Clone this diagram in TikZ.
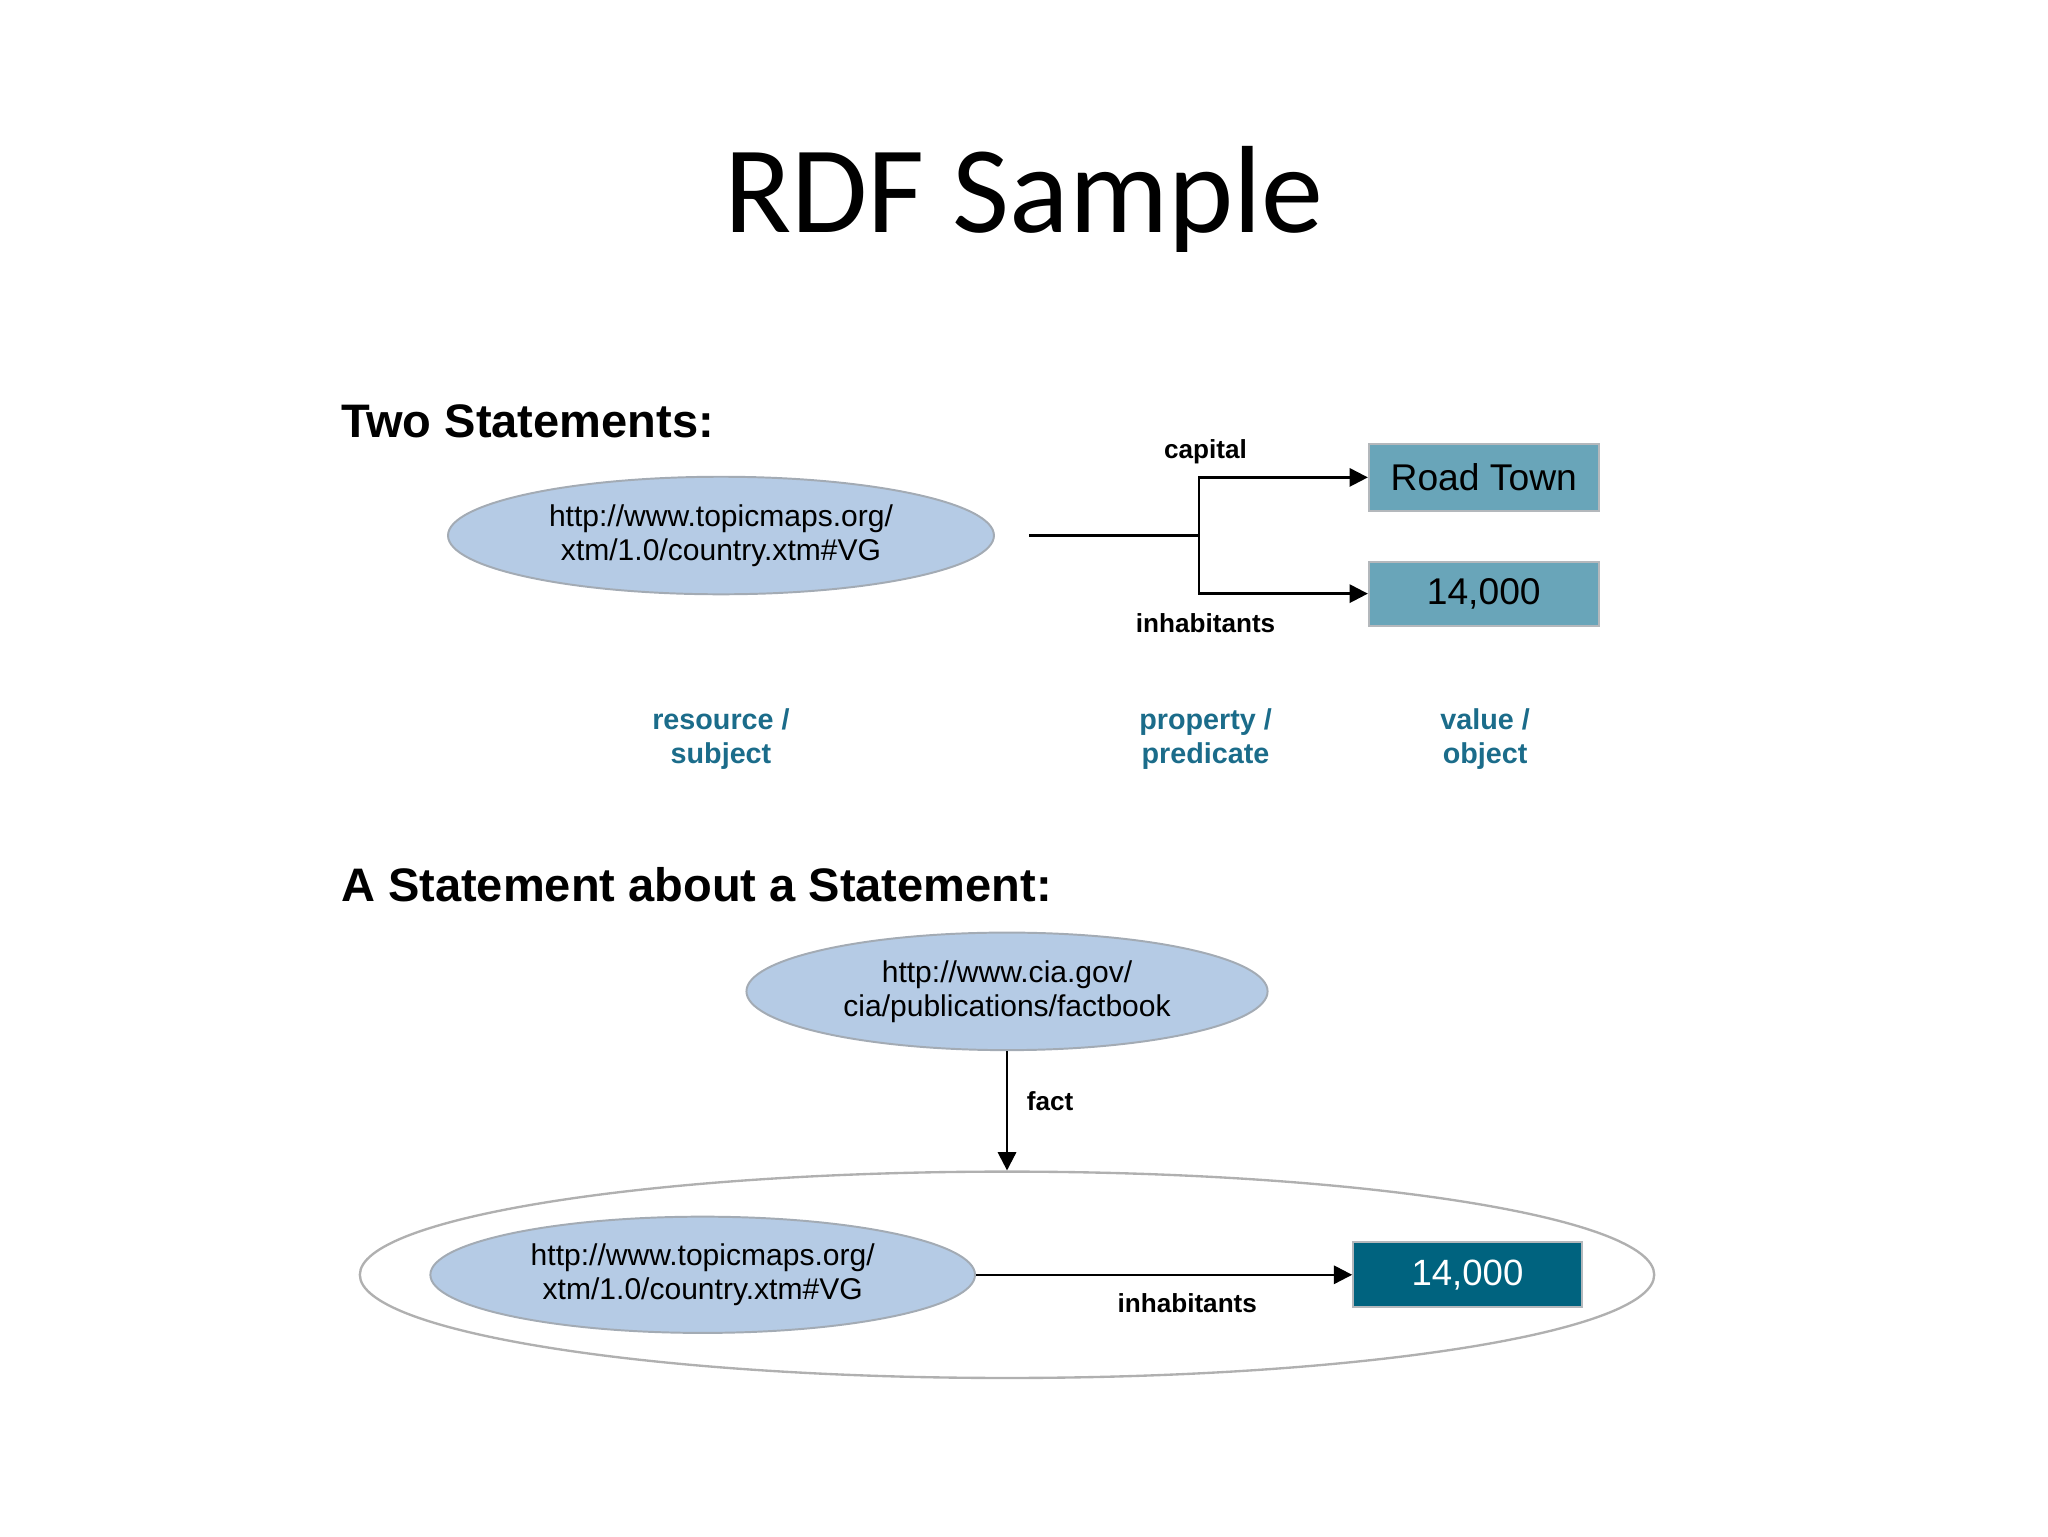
\documentclass[tikz,border=0pt]{standalone}
\usepackage{fontspec}
\setmainfont{Liberation Sans}
\newfontfamily\titlefont{Carlito}
\usetikzlibrary{arrows.meta,shapes.geometric}
\definecolor{ellfill}{HTML}{B5CBE5}
\definecolor{ellline}{HTML}{A3ABB4}
\definecolor{boxfill}{HTML}{69A5B9}
\definecolor{boxline}{HTML}{B4B8BC}
\definecolor{darkbox}{HTML}{00637F}
\definecolor{labblue}{HTML}{1B6C8A}
\definecolor{bigline}{HTML}{B0B0B0}
\tikzset{
  res/.style={ellipse, draw=ellline, fill=ellfill, line width=1.5pt, inner sep=0pt,
    align=center, font=\fontsize{23}{26}\selectfont},
  valbox/.style={rectangle, draw=boxline, fill=boxfill, line width=1.5pt, inner sep=0pt,
    font=\fontsize{28.5}{30}\selectfont},
  darkvalbox/.style={rectangle, draw=boxline, fill=darkbox, line width=1.5pt, inner sep=0pt,
    text=white, font=\fontsize{28}{30}\selectfont},
  heading/.style={anchor=base west, font=\bfseries\fontsize{36}{40}\selectfont, inner sep=0pt},
  edgelab/.style={font=\bfseries\fontsize{20}{22}\selectfont, inner sep=0pt},
  rolelab/.style={align=center, text=labblue, font=\bfseries\fontsize{22}{26}\selectfont, inner sep=0pt},
  conn/.style={line width=1.8pt, draw=black},
  arr/.style={conn, -{Triangle[length=14pt,width=14pt]}}
}
\begin{document}
\begin{tikzpicture}[x=1pt,y=-1pt]
\useasboundingbox (0,0) rectangle (1568,1176);
% title
\node[anchor=base, inner sep=0pt, font=\titlefont\fontsize{95}{100}\selectfont] (title) at (784,178) {RDF Sample};
% section 1
\node[heading] (h1) at (261,335) {Two Statements:};
\node[res, minimum width=418pt, minimum height=90pt] (subj1) at (552,410)
  {http://www.topicmaps.org/\\xtm/1.0/country.xtm\#VG};
\node[valbox, minimum width=176pt, minimum height=51pt] (rt) at (1136,365.5) {Road Town};
\node[valbox, minimum width=176pt, minimum height=49pt] (pop1) at (1136,454.5) {14,000};
\coordinate (stem) at (788,410);
\coordinate (branch) at (918,410);
\draw[conn] (stem) -- (branch);
\draw[arr] (branch) |- (rt.west);
\draw[arr] (branch) |- (pop1.west);
\node[edgelab] (lcap) at (923,346) {capital};
\node[edgelab] (linh1) at (923,477) {inhabitants};
\node[rolelab] (rsub) at (552,566) {resource /\\subject};
\node[rolelab] (rprop) at (923,566) {property /\\predicate};
\node[rolelab] (rval) at (1137,566) {value /\\object};
% section 2
\node[heading] (h2) at (261,690) {A Statement about a Statement:};
\node[res, minimum width=399pt, minimum height=90pt] (cia) at (771,759)
  {http://www.cia.gov/\\cia/publications/factbook};
\node[ellipse, draw=bigline, fill=white, line width=1.8pt, minimum width=991pt, minimum height=158pt] (big) at (771,976) {};
\draw[arr] (cia) -- (big.north);
\node[edgelab, anchor=west] (lfact) at (786,843) {fact};
\node[res, minimum width=417pt, minimum height=89pt] (subj2) at (538,976)
  {http://www.topicmaps.org/\\xtm/1.0/country.xtm\#VG};
\node[darkvalbox, minimum width=175pt, minimum height=50pt] (pop2) at (1123.5,976) {14,000};
\draw[arr] (subj2.east) -- (pop2.west);
\node[edgelab] (linh2) at (909,998) {inhabitants};
\end{tikzpicture}
\end{document}
